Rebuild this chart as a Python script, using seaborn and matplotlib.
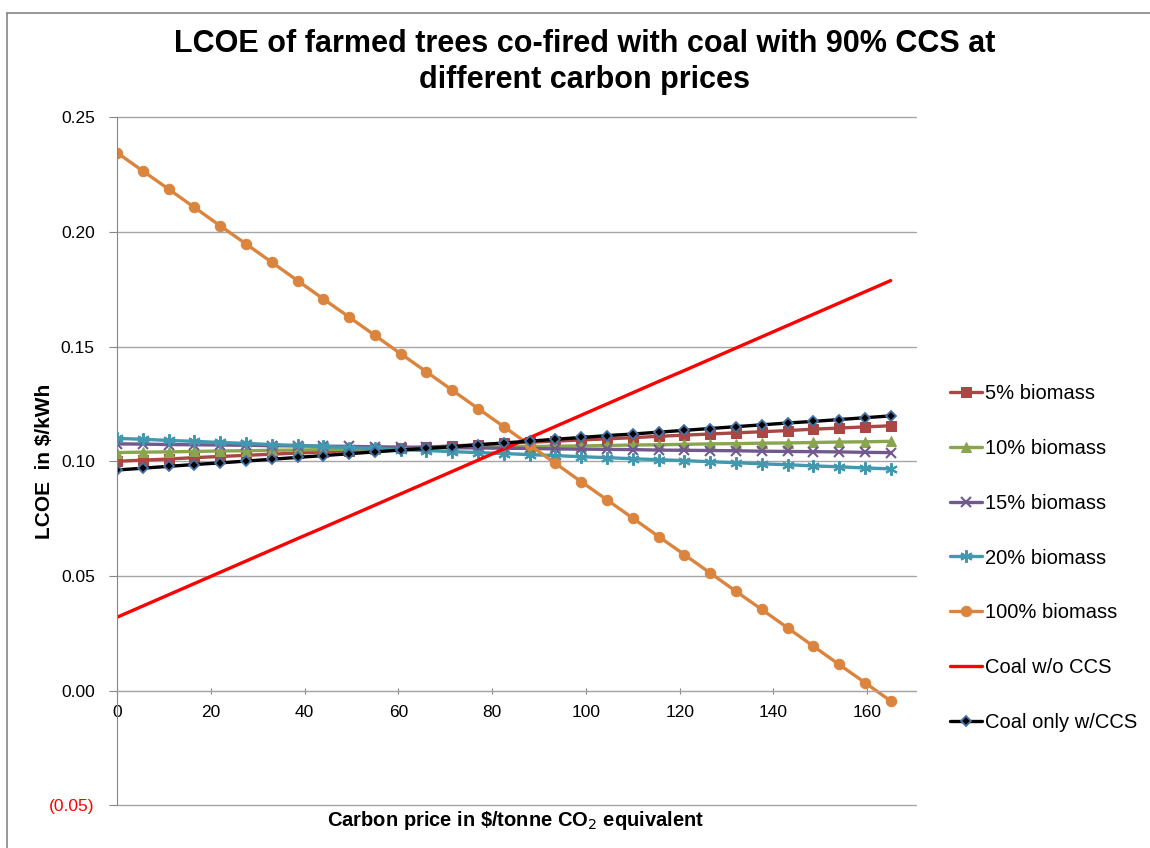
import matplotlib
matplotlib.use("Agg")
import matplotlib.pyplot as plt
import matplotlib.ticker as mticker
from matplotlib.lines import Line2D
import seaborn as sns

# Carbon price ($/tonne CO2e)
carbon_price = [0, 5.5, 11, 16.5, 22, 27.5, 33, 38.5, 44, 49.5, 55, 60.5, 66, 71.5, 77,
                82.5, 88, 93.5, 99, 104.5, 110, 115.5, 121, 126.5, 132, 137.5, 143, 148.5,
                154, 159.5, 165]

# LCOE in $/kWh
biomass_5 = [0.1000, 0.1005, 0.1010, 0.1016, 0.1021, 0.1026, 0.1031, 0.1036, 0.1041, 0.1047,
             0.1052, 0.1057, 0.1062, 0.1067, 0.1072, 0.1078, 0.1083, 0.1088, 0.1093, 0.1098,
             0.1103, 0.1109, 0.1114, 0.1119, 0.1124, 0.1129, 0.1134, 0.1140, 0.1145, 0.1150,
             0.1155]
biomass_10 = [0.1038, 0.1040, 0.1041, 0.1043, 0.1045, 0.1046, 0.1048, 0.1049, 0.1051, 0.1053,
              0.1054, 0.1056, 0.1058, 0.1059, 0.1061, 0.1063, 0.1064, 0.1066, 0.1067, 0.1069,
              0.1071, 0.1072, 0.1074, 0.1076, 0.1077, 0.1079, 0.1080, 0.1082, 0.1084, 0.1085,
              0.1087]
biomass_15 = [0.1076, 0.1075, 0.1073, 0.1072, 0.1071, 0.1070, 0.1068, 0.1067, 0.1066, 0.1065,
              0.1063, 0.1062, 0.1061, 0.1060, 0.1058, 0.1057, 0.1056, 0.1054, 0.1053, 0.1052,
              0.1051, 0.1049, 0.1048, 0.1047, 0.1046, 0.1044, 0.1043, 0.1042, 0.1041, 0.1039,
              0.1038]
biomass_20 = [0.1100, 0.1096, 0.1091, 0.1087, 0.1082, 0.1078, 0.1073, 0.1069, 0.1065, 0.1060,
              0.1056, 0.1051, 0.1047, 0.1042, 0.1038, 0.1034, 0.1029, 0.1025, 0.1020, 0.1016,
              0.1011, 0.1007, 0.1003, 0.0998, 0.0994, 0.0989, 0.0985, 0.0980, 0.0976, 0.0971,
              0.0967]
biomass_100 = [0.2346, 0.2266, 0.2187, 0.2107, 0.2027, 0.1948, 0.1868, 0.1788, 0.1708, 0.1629,
               0.1549, 0.1469, 0.1390, 0.1310, 0.1230, 0.1151, 0.1071, 0.0991, 0.0911, 0.0832,
               0.0752, 0.0672, 0.0593, 0.0513, 0.0433, 0.0354, 0.0274, 0.0194, 0.0114, 0.0035,
               -0.0045]
coal_no_ccs = [0.0320, 0.0369, 0.0418, 0.0467, 0.0516, 0.0565, 0.0614, 0.0663, 0.0711, 0.0760,
               0.0809, 0.0858, 0.0907, 0.0956, 0.1005, 0.1054, 0.1103, 0.1152, 0.1201, 0.1250,
               0.1299, 0.1348, 0.1396, 0.1445, 0.1494, 0.1543, 0.1592, 0.1641, 0.1690, 0.1739,
               0.1788]
coal_ccs = [0.0962, 0.0970, 0.0978, 0.0986, 0.0993, 0.1001, 0.1009, 0.1017, 0.1025, 0.1033,
            0.1041, 0.1049, 0.1056, 0.1064, 0.1072, 0.1080, 0.1088, 0.1096, 0.1104, 0.1112,
            0.1119, 0.1127, 0.1135, 0.1143, 0.1151, 0.1159, 0.1167, 0.1174, 0.1182, 0.1190,
            0.1198]

series = [
    ("5% biomass", biomass_5, dict(color="#AA4643", marker="s", ms=7, mec="#AA4643")),
    ("10% biomass", biomass_10, dict(color="#89A54E", marker="^", ms=7.5, mec="#89A54E")),
    ("15% biomass", biomass_15, dict(color="#71588F", marker="x", ms=7, mew=1.5, mec="#71588F")),
    ("20% biomass", biomass_20, dict(color="#4198AF", marker=(6, 2, 0), ms=9, mew=1.5, mec="#4198AF")),
    ("100% biomass", biomass_100, dict(color="#DB843D", marker="o", ms=7.5, mec="#DB843D")),
    ("Coal w/o CCS", coal_no_ccs, dict(color="#FF0000", marker=None)),
    ("Coal only w/CCS", coal_ccs, dict(color="black", marker="D", ms=5.5, mec="#4572A7", mew=1.3)),
]

sns.set_style("white")
plt.rcParams["font.family"] = ["Liberation Sans", "DejaVu Sans"]
plt.rcParams["text.color"] = "black"
plt.rcParams["axes.labelcolor"] = "black"
plt.rcParams["xtick.labelcolor"] = "black"
plt.rcParams["ytick.labelcolor"] = "black"

fig = plt.figure(figsize=(11.5, 8.48), dpi=100)
ax = fig.add_axes([117 / 1150, 1 - 805.3 / 848, (916 - 117) / 1150, (805.3 - 117.3) / 848])

for name, vals, style in series:
    sns.lineplot(x=carbon_price, y=vals, ax=ax, label=name, linewidth=2.4, **style)

ax.set_xlim(0, 170.4)
ax.set_ylim(-0.05, 0.25)
ax.set_xticks(range(0, 161, 20))
ax.set_yticks([-0.05, 0, 0.05, 0.10, 0.15, 0.20, 0.25])
ax.yaxis.set_major_formatter(mticker.FuncFormatter(
    lambda v, p: f"({abs(v):.2f})" if v < -1e-9 else f"{v:.2f}"))

ax.grid(axis="y", color="#a6a6a6", linewidth=1)
ax.grid(axis="x", visible=False)
for gl in ax.get_ygridlines():
    gl.set_clip_on(False)
ax.set_axisbelow(True)
for s in ["top", "right"]:
    ax.spines[s].set_visible(False)
ax.spines["left"].set_color("#868686")
ax.spines["bottom"].set_color("#a6a6a6")
ax.spines["bottom"].set_position(("data", 0))
ax.tick_params(axis="y", left=True, length=6, color="#868686", labelsize=12.5, pad=10)
ax.tick_params(axis="x", bottom=True, length=5, direction="inout", color="#868686",
               labelsize=12.5, pad=8)
for lab in ax.get_yticklabels():
    if lab.get_text().startswith("("):
        lab.set_color("red")

ax.set_ylabel("LCOE  in $/kWh", fontsize=15, fontweight="bold")
ax.yaxis.set_label_coords((54 - 117) / 799, 0.5)
ax.set_xlabel("")
fig.text(516 / 1150, 1 - 820 / 848, "Carbon price in \\$/tonne CO$_2$ equivalent",
         ha="center", va="center", fontsize=14.5, fontweight="bold")
fig.text(585 / 1150, 1 - 62 / 848,
         "LCOE of farmed trees co-fired with coal with 90% CCS at\ndifferent carbon prices",
         ha="center", va="center", fontsize=22, fontweight="bold", linespacing=1.25)

handles, labels = ax.get_legend_handles_labels()
ax.legend(handles, labels, loc="upper left", bbox_to_anchor=(950 / 1150, 1 - 384 / 848),
          bbox_transform=fig.transFigure, frameon=False, fontsize=14.5,
          labelspacing=1.78, handlelength=1.6, handletextpad=0.15, borderpad=0, borderaxespad=0)

# chart area border (partly visible)
fig.add_artist(Line2D([7 / 1150, 7 / 1150], [0, 1 - 13 / 848], transform=fig.transFigure,
                      color="#868686", linewidth=1.2))
fig.add_artist(Line2D([7 / 1150, 1], [1 - 13 / 848, 1 - 13 / 848], transform=fig.transFigure,
                      color="#868686", linewidth=1.2))

fig.savefig("out.png", dpi=100)
